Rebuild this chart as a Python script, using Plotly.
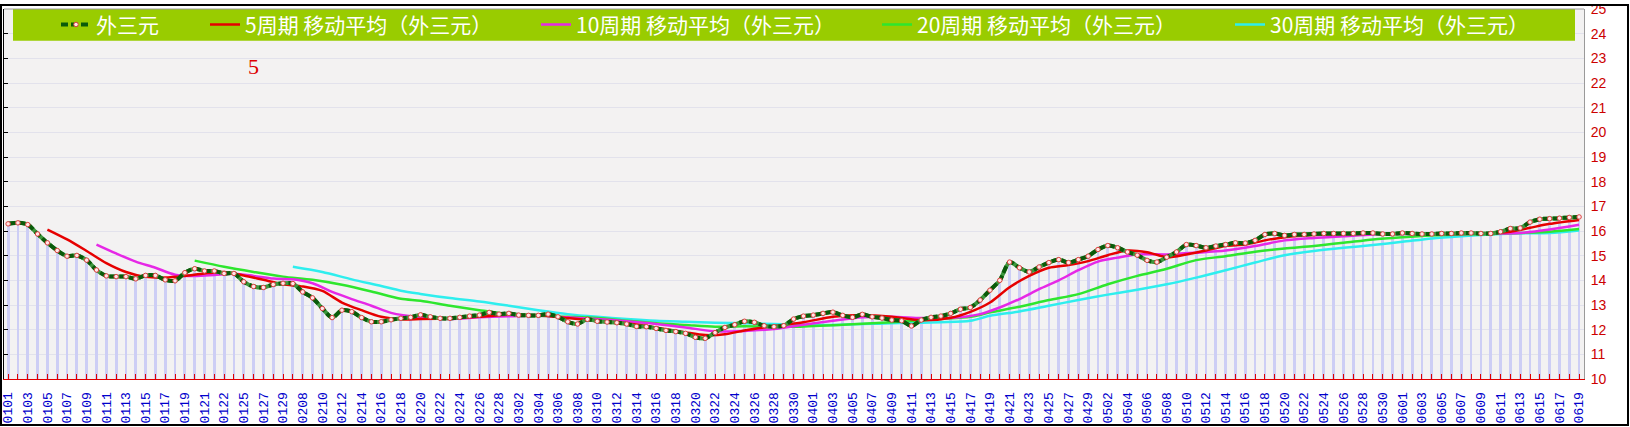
import plotly.graph_objects as go

# x-axis labels, shown under every other period
tick_labels = [
    "0101", "0103", "0105", "0107", "0109", "0111", "0113", "0115", "0117", "0119",
    "0121", "0122", "0125", "0127", "0129", "0208", "0210", "0212", "0214", "0216",
    "0218", "0220", "0222", "0224", "0226", "0228", "0302", "0304", "0306", "0308",
    "0310", "0312", "0314", "0316", "0318", "0320", "0322", "0324", "0326", "0328",
    "0330", "0401", "0403", "0405", "0407", "0409", "0411", "0413", "0415", "0417",
    "0419", "0421", "0423", "0425", "0427", "0429", "0502", "0504", "0506", "0508",
    "0510", "0512", "0514", "0516", "0518", "0520", "0522", "0524", "0526", "0528",
    "0530", "0601", "0603", "0605", "0607", "0609", "0611", "0613", "0615", "0617",
    "0619",
]

# 外三元, one value per period
values = [
    16.29, 16.33, 16.26, 15.88, 15.52, 15.21, 14.98, 15.01, 14.82, 14.42,
    14.18, 14.15, 14.15, 14.06, 14.20, 14.20, 14.02, 13.98, 14.31, 14.47,
    14.38, 14.38, 14.28, 14.28, 13.94, 13.75, 13.71, 13.83, 13.88, 13.87,
    13.53, 13.29, 12.86, 12.49, 12.79, 12.73, 12.49, 12.32, 12.32, 12.40,
    12.46, 12.50, 12.60, 12.52, 12.46, 12.46, 12.50, 12.55, 12.59, 12.70,
    12.63, 12.66, 12.59, 12.58, 12.58, 12.63, 12.52, 12.32, 12.23, 12.42,
    12.34, 12.31, 12.28, 12.23, 12.13, 12.12, 12.05, 11.97, 11.92, 11.85,
    11.69, 11.65, 11.88, 12.09, 12.20, 12.34, 12.30, 12.16, 12.12, 12.16,
    12.43, 12.55, 12.59, 12.66, 12.71, 12.58, 12.50, 12.62, 12.52, 12.47,
    12.39, 12.36, 12.15, 12.39, 12.50, 12.55, 12.66, 12.83, 12.90, 13.20,
    13.60, 14.00, 14.74, 14.51, 14.34, 14.54, 14.72, 14.84, 14.72, 14.84,
    14.98, 15.25, 15.41, 15.32, 15.15, 15.02, 14.81, 14.74, 14.94, 15.15,
    15.45, 15.41, 15.32, 15.39, 15.45, 15.52, 15.51, 15.62, 15.86, 15.90,
    15.82, 15.86, 15.86, 15.88, 15.90, 15.90, 15.90, 15.90, 15.92, 15.92,
    15.88, 15.88, 15.92, 15.90, 15.88, 15.88, 15.90, 15.90, 15.92, 15.92,
    15.90, 15.90, 15.97, 16.10, 16.12, 16.36, 16.48, 16.50, 16.52, 16.55,
    16.57,
]
periods = list(range(len(values)))

# moving-average lines at the periods listed
ma5_x = [4, 6, 8, 10, 12, 14, 16, 18, 20, 22, 24, 26, 28, 30, 32, 34, 36, 38, 40,
         42, 45, 48, 51, 54, 57, 60, 63, 66, 69, 71, 73, 75, 78, 81, 84, 87, 90,
         93, 96, 98, 100, 102, 104, 106, 108, 110, 112, 114, 116, 118, 120, 122,
         124, 126, 128, 130, 132, 135, 140, 145, 150, 153, 155, 157, 160]
ma5_y = [16.06, 15.66, 15.19, 14.70, 14.34, 14.14, 14.11, 14.18, 14.28, 14.34,
         14.20, 14.02, 13.84, 13.75, 13.57, 13.10, 12.79, 12.52, 12.42, 12.43,
         12.46, 12.52, 12.60, 12.58, 12.47, 12.36, 12.26, 12.09, 11.89, 11.78,
         11.81, 11.97, 12.15, 12.30, 12.52, 12.59, 12.52, 12.38, 12.48, 12.72,
         13.10, 13.72, 14.18, 14.51, 14.62, 14.78, 15.02, 15.21, 15.14, 14.94,
         15.05, 15.21, 15.39, 15.45, 15.62, 15.75, 15.82, 15.86, 15.90, 15.88,
         15.90, 15.97, 16.13, 16.29, 16.45]

ma10_x = [9, 11, 13, 15, 17, 19, 21, 23, 25, 27, 29, 31, 33, 35, 37, 39, 42, 45,
          48, 51, 54, 57, 60, 63, 66, 69, 72, 75, 78, 81, 84, 87, 90, 93, 96, 99,
          101, 103, 105, 107, 109, 111, 113, 115, 118, 121, 124, 127, 130, 133,
          136, 139, 142, 145, 148, 151, 154, 157, 160]
ma10_y = [15.45, 15.09, 14.76, 14.51, 14.23, 14.18, 14.22, 14.27, 14.18, 14.07,
          14.04, 13.88, 13.53, 13.24, 12.97, 12.68, 12.50, 12.43, 12.50, 12.54,
          12.56, 12.50, 12.43, 12.34, 12.23, 12.09, 11.93, 11.95, 12.03, 12.20,
          12.36, 12.50, 12.52, 12.47, 12.47, 12.63, 12.90, 13.24, 13.64, 14.00,
          14.41, 14.76, 14.92, 15.05, 15.05, 15.12, 15.21, 15.39, 15.62, 15.72,
          15.79, 15.86, 15.88, 15.88, 15.88, 15.90, 15.92, 16.06, 16.25]

ma20_x = [19, 22, 25, 28, 31, 34, 37, 40, 42, 45, 48, 51, 54, 57, 60, 63, 66, 69,
          72, 75, 80, 85, 90, 95, 98, 100, 103, 106, 109, 112, 115, 118, 121, 124,
          127, 130, 133, 136, 139, 142, 145, 148, 151, 154, 157, 160]
ma20_y = [14.80, 14.55, 14.34, 14.15, 14.02, 13.82, 13.55, 13.25, 13.17, 12.97,
          12.79, 12.63, 12.56, 12.52, 12.47, 12.36, 12.26, 12.19, 12.12, 12.14,
          12.12, 12.20, 12.30, 12.43, 12.52, 12.70, 12.93, 13.20, 13.44, 13.84,
          14.18, 14.47, 14.82, 14.98, 15.16, 15.29, 15.39, 15.52, 15.66, 15.75,
          15.82, 15.86, 15.88, 15.92, 15.97, 16.08]

ma30_x = [29, 32, 35, 38, 40, 42, 45, 48, 51, 54, 57, 60, 63, 66, 69, 72, 75, 80,
          85, 90, 95, 98, 100, 103, 106, 109, 112, 115, 118, 121, 124, 127, 130,
          133, 136, 139, 142, 145, 148, 151, 154, 157, 160]
ma30_y = [14.55, 14.34, 14.04, 13.77, 13.58, 13.45, 13.28, 13.14, 12.97, 12.79,
          12.63, 12.52, 12.43, 12.36, 12.32, 12.28, 12.26, 12.20, 12.20, 12.26,
          12.30, 12.36, 12.56, 12.74, 12.97, 13.20, 13.42, 13.62, 13.84, 14.11,
          14.41, 14.72, 15.02, 15.19, 15.32, 15.43, 15.56, 15.70, 15.79, 15.86,
          15.91, 15.92, 16.02]

W, H = 1630, 427
L, R, T, B = 4, 46, 5, 48
PW, PH = W - L - R, H - T - B


def px_x(p):
    return (p - L) / PW


def px_y(p):
    return 1 - (p - T) / PH


fig = go.Figure()

fig.add_trace(go.Bar(
    x=periods, y=values, width=0.28, marker_color="#CDCEF5",
    marker_line_width=0, showlegend=False, hoverinfo="skip",
))

ma_series = [
    ("30周期 移动平均（外三元）", ma30_x, ma30_y, "#2EEEEE", "legend5"),
    ("20周期 移动平均（外三元）", ma20_x, ma20_y, "#2EE62E", "legend4"),
    ("10周期 移动平均（外三元）", ma10_x, ma10_y, "#E628E6", "legend3"),
    ("5周期 移动平均（外三元）", ma5_x, ma5_y, "#E60000", "legend2"),
]
for name, xs, ys, color, leg in ma_series:
    fig.add_trace(go.Scatter(
        x=xs, y=ys, mode="lines", name=name, legend=leg,
        line=dict(color=color, width=2.5, shape="spline", smoothing=0.8),
    ))

fig.add_trace(go.Scatter(
    x=periods, y=values, mode="lines", showlegend=False, hoverinfo="skip",
    line=dict(color="#3E983E", width=4, shape="spline", smoothing=0.8),
))
fig.add_trace(go.Scatter(
    x=periods, y=values, mode="lines+markers", name="外三元", legend="legend",
    line=dict(color="#0A5A0A", width=4, shape="spline", smoothing=0.8, dash="7px,3px"),
    marker=dict(size=4.5, color="#FFE6E6", line=dict(color="#E04040", width=1)),
))

# dummy trace so the left axis (ticks only) gets drawn
fig.add_trace(go.Scatter(
    x=[0], y=[10], yaxis="y2", mode="markers", marker=dict(opacity=0),
    showlegend=False, hoverinfo="skip",
))

# green legend band, plot top border and outer frame
fig.add_shape(type="rect", xref="paper", yref="paper",
              x0=px_x(13), x1=px_x(1575), y0=px_y(37), y1=px_y(5),
              fillcolor="#99CC00", line_width=0, layer="above")
fig.add_shape(type="line", xref="paper", yref="paper",
              x0=0, x1=1, y0=1, y1=1, line=dict(color="#9A9A9A", width=1))
fig.add_shape(type="rect", xref="paper", yref="paper",
              x0=px_x(1), x1=px_x(1628), y0=px_y(425.5), y1=px_y(1),
              line=dict(color="#000000", width=2))

fig.add_annotation(x=px_x(253), y=px_y(63), xref="paper", yref="paper",
                   xanchor="center", yanchor="middle",
                   text="5", showarrow=False,
                   font=dict(family="Liberation Serif, DejaVu Serif", size=22, color="#DD0000"))

legend_text_x = {"legend": 98, "legend2": 247, "legend3": 578, "legend4": 919, "legend5": 1272}
legend_font = dict(family="Noto Sans CJK SC, Noto Sans", size=21, color="#FFFFFF")
legends = {}
for key, tx in legend_text_x.items():
    legends[key] = dict(
        x=px_x(tx - 42), xanchor="left", y=px_y(21), yanchor="middle",
        orientation="h", bgcolor="rgba(0,0,0,0)", borderwidth=0, font=legend_font,
    )

ticktext = [tick_labels[i // 2] if i % 2 == 0 else "" for i in periods]

fig.update_layout(
    template="none",
    width=W, height=H,
    margin=dict(l=L, r=R, t=T, b=B, pad=0),
    paper_bgcolor="#FFFFFF",
    plot_bgcolor="#F3F2F2",
    bargap=0,
    showlegend=True,
    xaxis=dict(
        range=[-0.42, 160.5], tickmode="array", tickvals=periods, ticktext=ticktext,
        tickangle=-90, ticks="inside", ticklen=5, tickwidth=1, tickcolor="#E00000",
        showline=True, linecolor="#E00000", linewidth=1, showgrid=False, zeroline=False,
        tickfont=dict(family="Liberation Mono, DejaVu Sans Mono", size=13, color="#0000CC"),
        ticklabelstandoff=7, automargin=False,
    ),
    yaxis=dict(
        range=[10, 25], dtick=1, side="right", showgrid=True, gridcolor="#E2E2EC",
        gridwidth=1, showline=True, linecolor="#9A9A9A", ticks="", zeroline=False,
        tickfont=dict(family="Liberation Sans Narrow, Liberation Sans", size=14, color="#CC0000"),
        ticklabelstandoff=3, automargin=False,
    ),
    yaxis2=dict(
        range=[10, 25], dtick=1, side="left", overlaying="y", showgrid=False,
        showticklabels=False, ticks="inside", ticklen=4, tickcolor="#000000",
        showline=True, linecolor="#000000", linewidth=1, zeroline=False,
    ),
    **legends,
)

# the page's default body margin would shift the whole figure by 8px
fig.write_html(
    "out.html",
    config={"displayModeBar": False},
    post_script="document.body.style.margin='0';document.body.style.padding='0';",
)
